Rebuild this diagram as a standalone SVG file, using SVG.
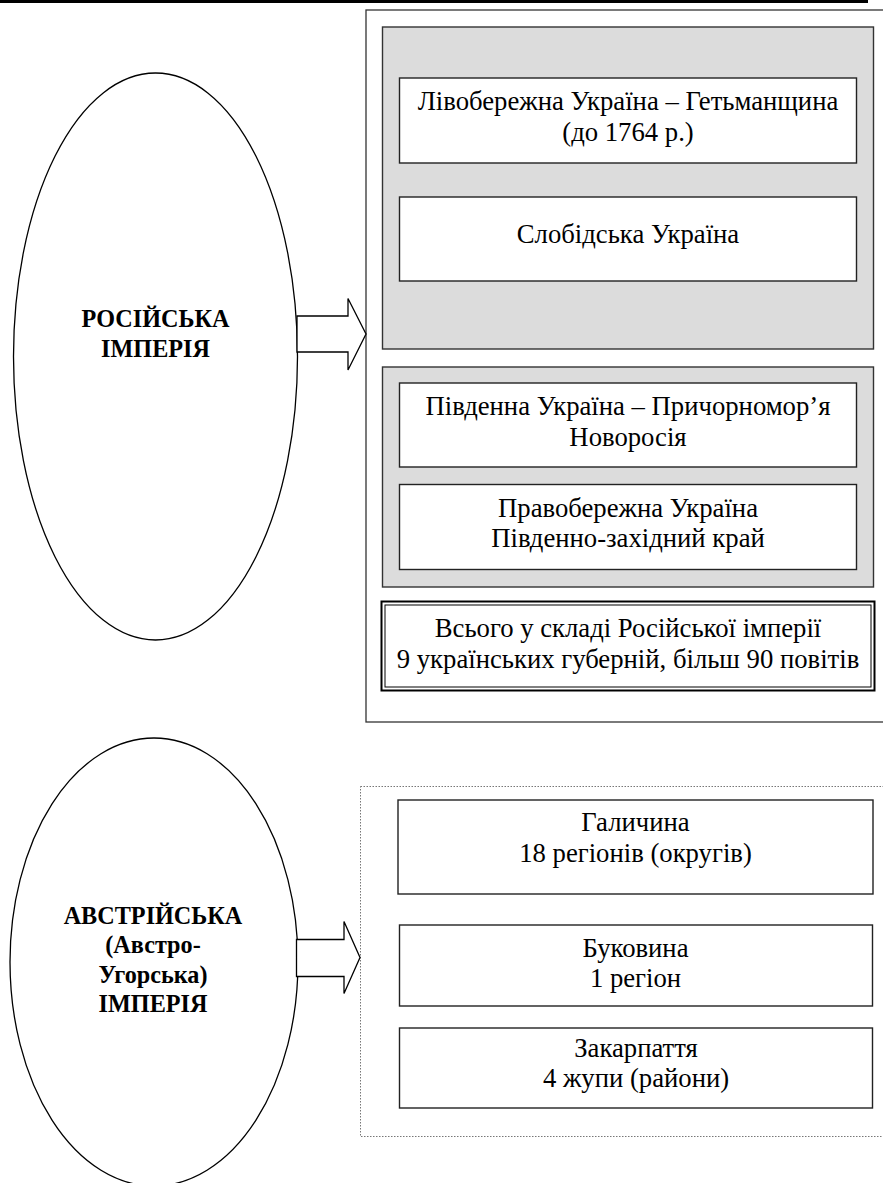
<svg xmlns="http://www.w3.org/2000/svg" width="883" height="1183" viewBox="0 0 883 1183">
<style>
text{font-family:'Liberation Serif',serif}
.t{font-size:26.7px;fill:#000;text-anchor:middle}
.b{font-size:24.2px;font-weight:bold;fill:#000;text-anchor:middle}
.wb{fill:#fff;stroke:#222;stroke-width:1.4}
.gb{fill:#dcdcdc;stroke:#333;stroke-width:1.4}
.el{fill:#fff;stroke:#000;stroke-width:1.3}
.ar{fill:#fff;stroke:#000;stroke-width:1.3;stroke-linejoin:miter}
</style>
<rect x="0" y="0" width="883" height="1183" fill="#fff"/>
<rect x="0" y="0" width="868" height="3" fill="#000"/>
<g id="russia-frame">
<rect x="366" y="10" width="530" height="712" fill="#fff" stroke="#333" stroke-width="1.3"/>
</g>
<g id="gray-1"><rect class="gb" x="382.5" y="27" width="491" height="322"/></g>
<g id="gray-2"><rect class="gb" x="382.5" y="367" width="491" height="220"/></g>
<g font-family="Liberation Serif, serif">
<g id="livoberezhna">
<rect class="wb" x="399.5" y="78" width="457" height="85"/>
<text class="t" x="628" y="110">Лівобережна Україна – Гетьманщина</text>
<text class="t" x="628" y="141">(до 1764 р.)</text>
</g>
<g id="slobidska">
<rect class="wb" x="399.5" y="197" width="457" height="84"/>
<text class="t" x="628" y="243">Слобідська Україна</text>
</g>
<g id="pivdenna">
<rect class="wb" x="399.5" y="383" width="457" height="84"/>
<text class="t" x="628" y="415">Південна Україна – Причорномор’я</text>
<text class="t" x="628" y="446">Новоросія</text>
</g>
<g id="pravoberezhna">
<rect class="wb" x="399.5" y="484.5" width="457" height="85"/>
<text class="t" x="628" y="517">Правобережна Україна</text>
<text class="t" x="628" y="547">Південно-західний край</text>
</g>
<g id="total">
<rect x="381.5" y="601.5" width="493" height="89" fill="#fff" stroke="#000" stroke-width="2"/>
<rect x="385" y="605" width="486" height="82" fill="none" stroke="#000" stroke-width="1"/>
<text class="t" x="628" y="637">Всього у складі Російської імперії</text>
<text class="t" x="628" y="668">9 українських губерній, більш 90 повітів</text>
</g>
<g id="russia">
<ellipse class="el" cx="155.5" cy="356.5" rx="142" ry="283.5"/>
<text class="b" x="155.5" y="327">РОСІЙСЬКА</text>
<text class="b" x="155.5" y="357">ІМПЕРІЯ</text>
</g>
<g id="austria-frame">
<rect x="360.5" y="786.5" width="540" height="350" fill="#fff" stroke="#777" stroke-width="1" stroke-dasharray="1.5,1.5"/>
</g>
<g id="galychyna">
<rect class="wb" x="398" y="800" width="475" height="94"/>
<text class="t" x="635.5" y="831">Галичина</text>
<text class="t" x="635.5" y="862">18 регіонів (округів)</text>
</g>
<g id="bukovyna">
<rect class="wb" x="399.5" y="925" width="473" height="81"/>
<text class="t" x="635.5" y="957">Буковина</text>
<text class="t" x="635.5" y="987">1 регіон</text>
</g>
<g id="zakarpattia">
<rect class="wb" x="399.5" y="1028" width="473" height="80"/>
<text class="t" x="636" y="1057">Закарпаття</text>
<text class="t" x="636" y="1087">4 жупи (райони)</text>
</g>
<g id="austria">
<ellipse class="el" cx="154" cy="962" rx="144" ry="224"/>
<text class="b" x="153" y="924">АВСТРІЙСЬКА</text>
<text class="b" x="153" y="953">(Австро-</text>
<text class="b" x="153" y="983">Угорська)</text>
<text class="b" x="153" y="1012">ІМПЕРІЯ</text>
</g>
</g>
<g id="connectors">
<path class="ar" d="M297,316 H348 V298.5 L366,334 L348,370 V352 H297 Z"/>
<path class="ar" d="M296.5,939.5 H344 V921.5 L360,957.5 L344,993.5 V976.5 H296.5 Z"/>
</g>
</svg>
